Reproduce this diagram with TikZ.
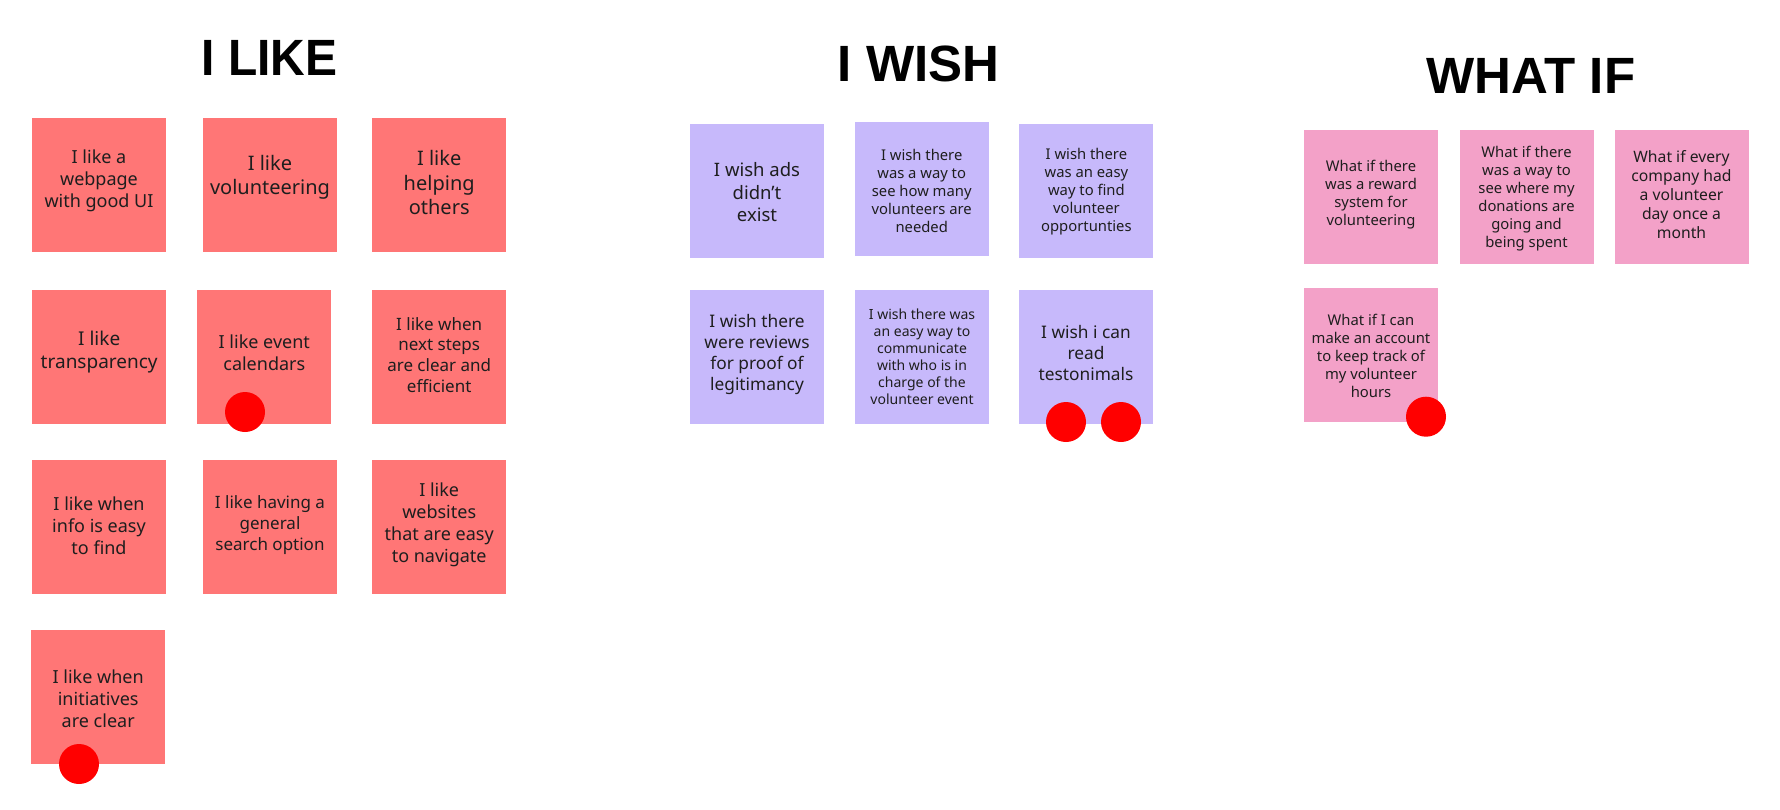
\documentclass[tikz,border=0pt]{standalone}
\usepackage{fontspec}
\setmainfont{Noto Sans}
\newfontfamily\titlefont{Liberation Sans}
\definecolor{redsticky}{HTML}{FF7676}
\definecolor{violetsticky}{HTML}{C7B9FB}
\definecolor{pinksticky}{HTML}{F3A1C8}
\definecolor{ink}{HTML}{1E1E1E}
\definecolor{dotred}{HTML}{FF0000}
\newcommand{\fs}[1]{\fontsize{#1}{1.215\dimexpr #1pt\relax}\selectfont}
\tikzset{
  note/.style={rectangle, minimum width=134pt, minimum height=134pt, inner sep=0pt, draw=none},
  likenote/.style={note, fill=redsticky},
  wishnote/.style={note, fill=violetsticky},
  ifnote/.style={note, fill=pinksticky},
  notetext/.style={align=center, text=ink, inner sep=0pt},
  vote/.style={circle, fill=dotred, minimum size=40pt, inner sep=0pt},
  heading/.style={font=\titlefont\bfseries\fontsize{51}{51}\selectfont, inner sep=0pt, text=black}
}
\begin{document}
\begin{tikzpicture}[x=1pt, y=-1pt]
\useasboundingbox (0,0) rectangle (1780,809);
\fill[white] (0,0) rectangle (1780,809);

% titles
\node[heading] (tlike) at (269.5,57.5) {\scalebox{0.94}[1]{I LIKE}};
\node[heading] (twish) at (918.5,64) {I WISH};
\node[heading] (twhat) at (1531,75.5) {WHAT IF};

% I LIKE notes
\node[likenote] (l1) at (99,184.5) {};
\node[likenote] (l2) at (270,185.2) {};
\node[likenote] (l3) at (439.2,185.2) {};
\node[likenote] (l4) at (99.2,357) {};
\node[likenote] (l5) at (264.3,357) {};
\node[likenote] (l6) at (439.2,357) {};
\node[likenote] (l7) at (99,527) {};
\node[likenote] (l8) at (270,527) {};
\node[likenote] (l9) at (439.2,527) {};
\node[likenote] (l10) at (98.2,697) {};

\node[notetext, font=\fs{18}] (l1t) at (99,181) {I like a\\webpage\\with good UI};
\node[notetext, font=\fs{20}] (l2t) at (270,177) {I like\\volunteering};
\node[notetext, font=\fs{20}] (l3t) at (439.2,182.5) {I like\\helping\\others};
\node[notetext, font=\fs{19}] (l4t) at (99.2,351.7) {I like\\transparency};
\node[notetext, font=\fs{18}] (l5t) at (264.3,352.5) {I like event\\calendars};
\node[notetext, font=\fs{17}] (l6t) at (439.2,354.7) {I like when\\next steps\\are clear and\\efficient};
\node[notetext, font=\fs{18}] (l7t) at (99,525.5) {I like when\\info is easy\\to find};
\node[notetext, font=\fs{17}] (l8t) at (270,525) {I like having a\\general\\search option};
\node[notetext, font=\fs{18}] (l9t) at (439.2,525) {I like\\websites\\that are easy\\to navigate};
\node[notetext, font=\fs{18}] (l10t) at (98.2,699) {I like when\\initiatives\\are clear};

% I WISH notes
\node[wishnote] (w1) at (757,190.5) {};
\node[wishnote] (w2) at (921.7,189.2) {};
\node[wishnote] (w3) at (1086.4,190.5) {};
\node[wishnote] (w4) at (757,357) {};
\node[wishnote] (w5) at (922,357) {};
\node[wishnote] (w6) at (1086,357) {};

\node[notetext, font=\fs{18.5}] (w1t) at (757,192.5) {I wish ads\\didn’t\\exist};
\node[notetext, font=\fs{14.8}] (w2t) at (921.7,190.8) {I wish there\\was a way to\\see how many\\volunteers are\\needed};
\node[notetext, font=\fs{14.8}] (w3t) at (1086.4,191.8) {I wish there\\was an easy\\way to find\\volunteer\\opportunties};
\node[notetext, font=\fs{17.3}] (w4t) at (757,354.7) {I wish there\\were reviews\\for proof of\\legitimancy};
\node[notetext, font=\fs{14}] (w5t) at (922,356.5) {I wish there was\\an easy way to\\communicate\\with who is in\\charge of the\\volunteer event};
\node[notetext, font=\fs{17.3}] (w6t) at (1086,353.2) {I wish i can\\read\\testonimals};

% WHAT IF notes
\node[ifnote] (p1) at (1371,196.5) {};
\node[ifnote] (p2) at (1526.5,196.5) {};
\node[ifnote] (p3) at (1681.5,196.5) {};
\node[ifnote] (p4) at (1371,355) {};

\node[notetext, font=\fs{14.8}] (p1t) at (1371,194.7) {What if there\\was a reward\\system for\\volunteering};
\node[notetext, font=\fs{14.8}] (p2t) at (1526.5,198.8) {What if there\\was a way to\\see where my\\donations are\\going and\\being spent};
\node[notetext, font=\fs{15.7}] (p3t) at (1681.5,194.7) {What if every\\company had\\a volunteer\\day once a\\month};
\node[notetext, font=\fs{14.8}] (p4t) at (1371,356) {What if I can\\make an account\\to keep track of\\my volunteer\\hours};

% votes
\node[vote] (v1) at (245,412) {};
\node[vote] (v2) at (79,764) {};
\node[vote] (v3) at (1066,422) {};
\node[vote] (v4) at (1121,422) {};
\node[vote] (v5) at (1426,416.7) {};
\end{tikzpicture}
\end{document}
